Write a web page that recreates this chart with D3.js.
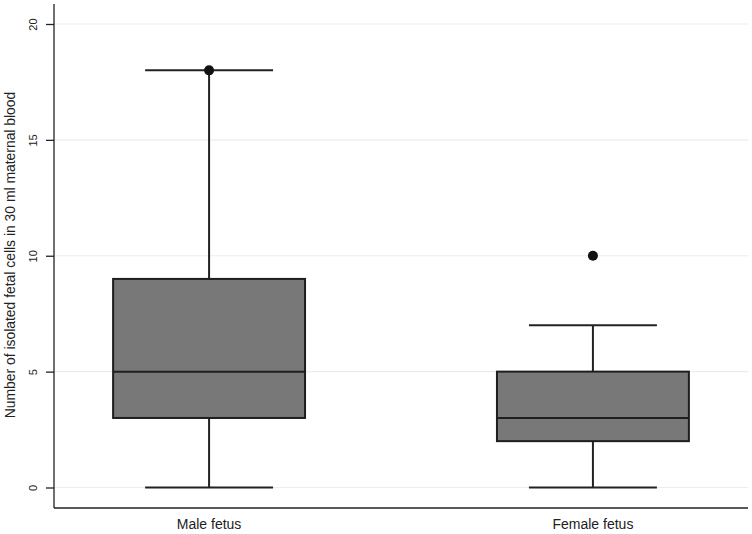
<!DOCTYPE html>
<html lang="en">
<head>
    <meta charset="UTF-8">
    <title>Fetal cells box plot</title>
    <script src="https://d3js.org/d3.v7.min.js"></script>
    <style>
        body { margin: 0; background: #fff; }
        svg { display: block; font-family: "Liberation Sans", Arial, sans-serif; }
    </style>
</head>
<body>
    <svg width="752" height="534"></svg>
    <script>
        // data
        const groups = ["Male fetus", "Female fetus"];
        const whiskerLow = [0, 0];
        const q1 = [3, 2];
        const medians = [5, 3];
        const q3 = [9, 5];
        const whiskerHigh = [18, 7];
        const outliers = [[18], [10]];
        const yTicks = [0, 5, 10, 15, 20];

        const svg = d3.select("svg");
        const plotLeft = 54, plotRight = 748, plotTop = 4, plotBottom = 508;

        const x = d3.scalePoint().domain(groups).range([plotLeft, plotRight]).padding(0.404);
        const y = d3.scaleLinear().domain([0, 20]).range([487.5, 24]);
        const step = x.step();
        const boxW = step * 0.5, capW = step / 3;

        // grid lines
        svg.append("g").selectAll("line")
            .data(yTicks)
            .enter().append("line")
            .attr("x1", plotLeft).attr("x2", plotRight)
            .attr("y1", d => y(d)).attr("y2", d => y(d))
            .attr("stroke", "#ececec")
            .attr("stroke-width", 1.2);

        // y axis
        const yAxis = svg.append("g")
            .attr("transform", `translate(${plotLeft},0)`)
            .call(d3.axisLeft(y).tickValues(yTicks).tickSize(8).tickSizeOuter(0));
        yAxis.select(".domain").remove();
        yAxis.selectAll(".tick line").attr("stroke", "#222").attr("stroke-width", 1.3);
        yAxis.selectAll(".tick text")
            .attr("transform", "rotate(-90)")
            .attr("x", 0).attr("y", -21)
            .attr("dy", "0.35em")
            .attr("text-anchor", "middle")
            .attr("font-size", 11)
            .attr("fill", "#222");

        svg.append("line")
            .attr("x1", plotLeft).attr("x2", plotLeft).attr("y1", plotTop).attr("y2", plotBottom)
            .attr("stroke", "#222").attr("stroke-width", 1.3);
        svg.append("line")
            .attr("x1", plotLeft).attr("x2", plotRight).attr("y1", plotBottom).attr("y2", plotBottom)
            .attr("stroke", "#222").attr("stroke-width", 1.3);

        // x labels
        svg.append("g").selectAll("text")
            .data(groups)
            .enter().append("text")
            .attr("x", d => x(d))
            .attr("y", 529)
            .attr("text-anchor", "middle")
            .attr("font-size", 14)
            .attr("fill", "#222")
            .text(d => d);

        // y title
        svg.append("text")
            .attr("transform", "translate(15,255) rotate(-90)")
            .attr("text-anchor", "middle")
            .attr("font-size", 13.9)
            .attr("fill", "#222")
            .text("Number of isolated fetal cells in 30 ml maternal blood");

        const boxes = svg.append("g").selectAll("g")
            .data(groups)
            .enter().append("g");

        // whiskers
        boxes.append("line")
            .attr("x1", d => x(d)).attr("x2", d => x(d))
            .attr("y1", (d, i) => y(whiskerLow[i])).attr("y2", (d, i) => y(whiskerHigh[i]))
            .attr("stroke", "#222").attr("stroke-width", 2);
        [whiskerLow, whiskerHigh].forEach(arr => {
            boxes.append("line")
                .attr("x1", d => x(d) - capW / 2).attr("x2", d => x(d) + capW / 2)
                .attr("y1", (d, i) => y(arr[i])).attr("y2", (d, i) => y(arr[i]))
                .attr("stroke", "#222").attr("stroke-width", 2);
        });

        // boxes
        boxes.append("rect")
            .attr("x", d => x(d) - boxW / 2)
            .attr("width", boxW)
            .attr("y", (d, i) => y(q3[i]))
            .attr("height", (d, i) => y(q1[i]) - y(q3[i]))
            .attr("fill", "#787878")
            .attr("stroke", "#1e1e1e")
            .attr("stroke-width", 2);
        boxes.append("line")
            .attr("x1", d => x(d) - boxW / 2).attr("x2", d => x(d) + boxW / 2)
            .attr("y1", (d, i) => y(medians[i])).attr("y2", (d, i) => y(medians[i]))
            .attr("stroke", "#1e1e1e").attr("stroke-width", 2);

        // outliers
        boxes.each(function (d, i) {
            d3.select(this).selectAll("circle")
                .data(outliers[i])
                .enter().append("circle")
                .attr("cx", x(d))
                .attr("cy", v => y(v))
                .attr("r", 5)
                .attr("fill", "#111");
        });
    </script>
</body>
</html>
